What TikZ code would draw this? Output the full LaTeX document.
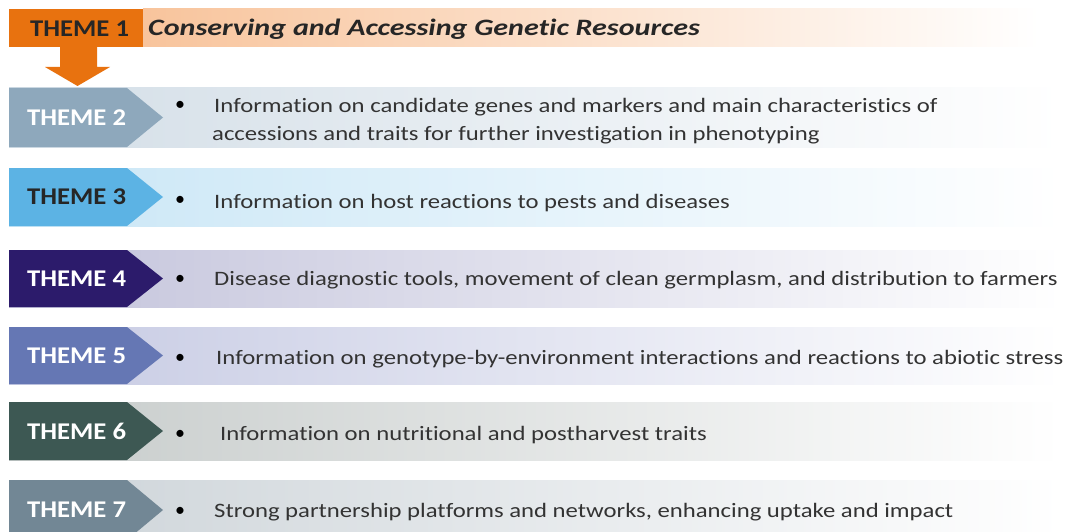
\documentclass[tikz,border=0pt]{standalone}
\usepackage{fontspec}
\setmainfont{Carlito}[Ligatures={NoCommon}]
\newfontfamily\bodyfont{Carlito}[FakeStretch=1.205,Ligatures={NoCommon}]
\newfontfamily\lblfont{Carlito}[FakeStretch=1.11,Ligatures={NoCommon}]
\newfontfamily\ttlfont{Carlito}[FakeStretch=1.28,Ligatures={NoCommon}]
\definecolor{orA}{HTML}{E8720F}
\definecolor{orB}{HTML}{F8C49C}
\definecolor{tA}{HTML}{8EA8BC}\definecolor{bA}{HTML}{D3DEE7}
\definecolor{tB}{HTML}{5CB3E4}\definecolor{bB}{HTML}{C9E6F6}
\definecolor{tC}{HTML}{2C1B6B}\definecolor{bC}{HTML}{C3C3DB}
\definecolor{tD}{HTML}{6577B4}\definecolor{bD}{HTML}{C6CAE3}
\definecolor{tE}{HTML}{3D5853}\definecolor{bE}{HTML}{C6CBCA}
\definecolor{tF}{HTML}{728795}\definecolor{bF}{HTML}{CCD3D8}
\definecolor{txt}{HTML}{333333}
\tikzset{
  themelbl/.style={font=\lblfont\fontsize{24}{24}\selectfont\bfseries, anchor=west, inner sep=0pt},
  bodytxt/.style={font=\bodyfont\fontsize{20.5}{28}\selectfont, text=txt, anchor=west, inner sep=0pt, align=left},
  bul/.style={font=\fontsize{20}{20}\selectfont, text=black, inner sep=0pt},
}
\newcommand{\themerow}[8]{% top, bottom, tab colour, band colour, label colour, label, name, bullet y
  \shade[left color=#4, right color=white] (9,#1) rectangle (1062,#2);
  \fill[#3] (9,#1) -- (127,#1) -- (163,{(#1+#2)/2}) -- (127,#2) -- (9,#2) -- cycle;
  \node[themelbl, text=#5] (#7) at (27,{(#1+#2)/2}) {#6};
  \node[bul] (#7b) at (180,#8) {•};
}
\begin{document}
\begin{tikzpicture}[x=1pt,y=-1pt]
\useasboundingbox (0,0) rectangle (1070,532);
\fill[white] (0,0) rectangle (1070,532);
% theme 1
\shade[left color=orB, right color=white] (143,9) rectangle (1040,47);
\fill[orA] (9,9) rectangle (143,47);
\node[themelbl, text=black!85] (t1) at (30,29) {THEME 1};
\node[anchor=west, inner sep=0pt, text=black!85, font=\ttlfont\fontsize{23.5}{24}\selectfont\bfseries\itshape] (t1txt) at (148,29) {Conserving and Accessing Genetic Resources};
% arrow
\coordinate (a0) at (60,47);
\fill[orA] (a0) -- (97,47) -- (97,67) -- (110,67) -- (77.5,86) -- (45,67) -- (60,67) -- cycle;
% rows
\themerow{88}{147}{tA}{bA}{white}{THEME 2}{t2}{106}
\themerow{168}{226}{tB}{bB}{black!85}{THEME 3}{t3}{201}
\themerow{250}{307}{tC}{bC}{white}{THEME 4}{t4}{280}
\themerow{327}{384}{tD}{bD}{white}{THEME 5}{t5}{359}
\themerow{402}{460}{tE}{bE}{white}{THEME 6}{t6}{435}
\themerow{480}{540}{tF}{bF}{white}{THEME 7}{t7}{512}
\node[bodytxt] (x2) at (212,121) {\hspace*{2pt}Information on candidate genes and markers and main characteristics of\\accessions and traits for further investigation in phenotyping};
\node[bodytxt] (x3) at (214,203) {Information on host reactions to pests and diseases};
\node[bodytxt] (x4) at (214,280) {Disease diagnostic tools, movement of clean germplasm, and distribution to farmers};
\node[bodytxt] (x5) at (216,359) {Information on genotype-by-environment interactions and reactions to abiotic stress};
\node[bodytxt] (x6) at (220,435) {Information on nutritional and postharvest traits};
\node[bodytxt] (x7) at (214,512) {Strong partnership platforms and networks, enhancing uptake and impact};
\end{tikzpicture}
\end{document}
